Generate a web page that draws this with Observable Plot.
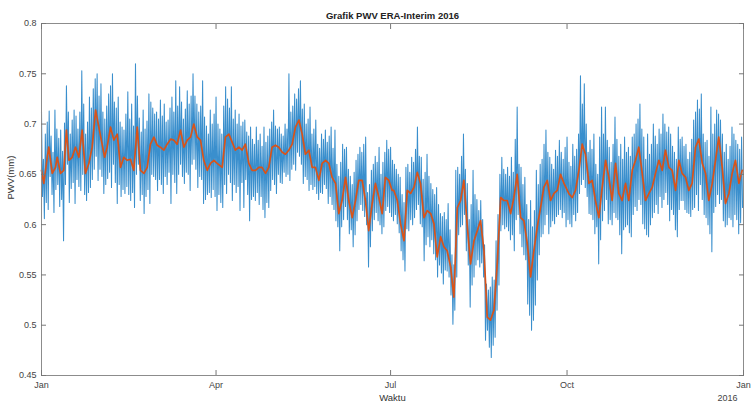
<!DOCTYPE html>
<html><head><meta charset="utf-8">
<script src="https://cdn.jsdelivr.net/npm/d3@7"></script>
<script src="https://cdn.jsdelivr.net/npm/@observablehq/plot@0.6"></script>
<style>
body{margin:0;background:#fff;}
#chart{width:752px;height:402px;}
</style>
</head><body><div id="chart"></div>
<script>
const titleText = "Grafik PWV ERA-Interim 2016";
const xLabelText = "Waktu";
const yLabelText = "PWV(mm)";
const yearText = "2016";
const yTicks = [0.45, 0.5, 0.55, 0.6, 0.65, 0.7, 0.75, 0.8];
const xTickDates = ["2016-01-01", "2016-04-01", "2016-07-01", "2016-10-01", "2017-01-01"];
const xTickLabels = ["Jan", "Apr", "Jul", "Oct", "Jan"];
const startDate = "2016-01-01";
const blueStepHours = 12;

// PWV series (blue), one value every 12 hours from 1 Jan 2016
const blueVals = [
.712,.628,.665,.606,.690,.622,.702,.615,.713,.648,.688,.630,.672,.612,.714,.635,.695,.640,.686,.618,
.694,.625,.673,.584,.701,.640,.738,.660,.712,.622,.690,.636,.704,.642,.714,.621,.708,.645,.695,.638,
.712,.634,.753,.650,.720,.630,.690,.624,.702,.632,.727,.637,.716,.645,.735,.655,.745,.668,.750,.644,
.728,.655,.740,.648,.712,.631,.705,.640,.718,.646,.730,.652,.738,.637,.750,.660,.722,.642,.716,.621,
.727,.640,.702,.628,.697,.635,.694,.631,.710,.638,.732,.630,.705,.624,.720,.632,.698,.617,.760,.650,
.728,.660,.706,.624,.692,.630,.714,.611,.695,.628,.703,.635,.730,.621,.722,.650,.716,.648,.710,.645,
.712,.634,.705,.645,.724,.640,.708,.631,.720,.648,.702,.640,.704,.652,.716,.621,.727,.650,.712,.642,
.743,.631,.718,.650,.737,.660,.722,.648,.705,.641,.715,.652,.733,.650,.720,.634,.728,.660,.750,.665,
.728,.655,.720,.637,.712,.648,.718,.645,.743,.621,.707,.625,.698,.630,.690,.632,.714,.627,.700,.635,
.710,.628,.727,.614,.700,.630,.695,.622,.690,.617,.718,.640,.737,.631,.725,.650,.716,.642,.737,.624,
.705,.640,.714,.632,.700,.638,.710,.614,.698,.642,.702,.617,.704,.645,.692,.630,.688,.604,.697,.625,
.685,.628,.680,.624,.697,.632,.684,.620,.690,.628,.678,.615,.697,.607,.682,.622,.688,.617,.695,.634,
.702,.645,.714,.640,.698,.631,.695,.650,.697,.642,.690,.641,.688,.652,.700,.648,.695,.650,.750,.644,
.712,.655,.718,.660,.730,.654,.725,.672,.735,.668,.743,.660,.715,.641,.720,.648,.700,.645,.705,.634,
.717,.640,.690,.635,.695,.638,.704,.631,.680,.625,.676,.632,.690,.631,.685,.640,.694,.636,.682,.621,
.688,.628,.697,.620,.676,.615,.694,.604,.660,.598,.648,.574,.662,.598,.680,.605,.675,.618,.677,.605,
.655,.591,.648,.595,.640,.578,.652,.590,.664,.604,.670,.615,.677,.620,.672,.614,.680,.608,.687,.600,
.632,.558,.640,.578,.654,.594,.660,.605,.668,.612,.662,.604,.677,.600,.650,.591,.662,.598,.672,.614,
.684,.618,.675,.612,.677,.608,.664,.604,.660,.610,.655,.601,.650,.592,.647,.574,.630,.565,.622,.554,
.657,.596,.660,.594,.652,.605,.667,.600,.662,.607,.675,.615,.697,.620,.668,.601,.667,.598,.645,.564,
.652,.580,.670,.588,.648,.578,.641,.585,.635,.571,.630,.565,.637,.548,.620,.560,.611,.552,.608,.541,
.612,.555,.605,.554,.621,.548,.595,.530,.570,.501,.560,.515,.654,.548,.657,.590,.650,.598,.668,.600,
.690,.610,.655,.574,.641,.560,.605,.518,.620,.540,.654,.548,.630,.560,.625,.565,.614,.558,.624,.562,
.605,.548,.580,.485,.541,.495,.535,.478,.538,.468,.548,.480,.545,.488,.584,.515,.610,.540,.650,.594,
.667,.600,.655,.596,.650,.598,.657,.594,.648,.585,.667,.590,.652,.574,.685,.605,.717,.610,.660,.591,
.657,.578,.640,.570,.647,.565,.620,.521,.605,.510,.624,.495,.598,.505,.614,.520,.654,.545,.640,.570,
.660,.588,.665,.591,.680,.600,.694,.610,.672,.591,.667,.598,.660,.604,.655,.601,.674,.608,.668,.610,
.684,.615,.672,.607,.665,.612,.677,.598,.687,.605,.662,.601,.658,.598,.680,.610,.668,.604,.675,.612,
.690,.631,.748,.640,.720,.645,.740,.637,.700,.628,.672,.611,.684,.610,.675,.605,.690,.591,.660,.598,
.650,.561,.687,.585,.717,.604,.690,.614,.717,.625,.684,.601,.677,.605,.662,.600,.680,.612,.707,.607,
.685,.605,.668,.590,.680,.571,.665,.595,.687,.598,.672,.600,.677,.592,.668,.588,.687,.610,.690,.618,
.700,.614,.705,.625,.720,.620,.695,.601,.687,.596,.665,.590,.690,.588,.670,.600,.680,.607,.700,.612,
.688,.620,.680,.611,.695,.628,.690,.617,.710,.625,.700,.632,.692,.620,.697,.604,.690,.615,.678,.610,
.672,.595,.665,.588,.697,.615,.685,.624,.687,.624,.678,.615,.680,.612,.665,.611,.672,.608,.685,.615,
.704,.617,.712,.630,.724,.614,.715,.640,.730,.625,.690,.610,.682,.607,.684,.600,.668,.591,.717,.573,
.690,.612,.700,.618,.714,.630,.710,.621,.704,.625,.690,.604,.672,.598,.680,.600,.665,.607,.678,.605,
.697,.598,.690,.610,.684,.605,.680,.591,.675,.602,.687,.617
];

// Smoothed series (orange): day of year (from 1 Jan) and value
const orangeDay = [
0,1.2,3.0,3.8,5.6,7.3,8.2,9.9,11.6,13.0,14.3,16.0,17.7,19.5,21.2,22.9,24.7,26.4,28.2,29.9,
31.6,32.9,34.2,36.0,37.7,39.5,41.2,42.9,44.7,46.4,48.1,49.9,51.6,53.4,55.1,56.8,58.6,60.3,62.0,63.8,
65.5,67.3,69.0,70.7,72.5,74.2,76.0,77.7,79.4,81.2,82.9,84.6,86.4,88.1,89.9,91.6,
94.2,95.9,97.7,99.4,101.1,102.9,104.6,106.3,108.1,109.8,111.6,113.3,115.0,116.8,118.5,120.2,122.0,123.7,125.5,127.2,
128.9,130.7,132.4,134.2,135.9,137.6,139.4,141.1,142.8,144.6,146.3,148.1,149.8,151.5,153.3,155.0,156.7,158.5,160.2,162.0,
163.7,165.4,167.2,168.9,170.6,172.4,174.1,175.9,177.6,179.3,181.1,
182.8,183.7,185.5,187.2,189.0,190.7,192.4,194.2,195.9,197.6,199.4,201.1,202.9,204.6,206.3,208.1,209.8,211.5,213.3,215.0,
216.8,218.5,220.2,222.0,223.7,225.5,227.2,228.9,230.7,232.4,234.1,235.9,237.6,239.4,241.1,242.8,244.6,246.3,248.0,249.8,
251.5,253.3,255.0,256.7,258.5,260.2,261.9,263.7,265.4,267.2,268.9,270.6,272.4,
274.9,276.7,278.4,280.2,281.9,283.6,285.4,287.1,288.8,290.6,292.3,294.1,295.8,297.5,299.3,301.0,302.7,304.5,306.2,308.0,
309.7,311.4,313.2,314.9,316.7,318.4,320.1,321.9,323.6,325.3,327.1,328.8,330.6,332.3,334.0,335.8,337.5,339.2,341.0,342.7,
344.5,346.2,347.9,349.7,351.4,353.1,354.9,356.6,358.4,360.1,361.8,363.6,365.3
];
const orangeVal = [
.654,.641,.667,.677,.651,.657,.667,.651,.654,.694,.664,.667,.677,.667,.694,.651,.661,.677,.714,.697,
.680,.667,.677,.697,.684,.690,.657,.667,.664,.665,.654,.697,.654,.651,.657,.680,.687,.679,.677,.674,
.680,.685,.684,.680,.694,.677,.684,.687,.700,.687,.684,.664,.654,.661,.664,.661,
.657,.687,.690,.682,.674,.677,.674,.680,.661,.654,.654,.657,.657,.651,.657,.677,.679,.677,.672,.670,
.674,.680,.697,.704,.690,.670,.674,.657,.657,.644,.661,.664,.661,.647,.641,.611,.624,.647,.624,.607,
.624,.644,.644,.624,.594,.621,.641,.627,.611,.647,.644,
.634,.634,.624,.601,.584,.634,.631,.637,.652,.641,.607,.614,.611,.601,.568,.588,.578,.574,.558,.528,
.617,.624,.644,.598,.561,.584,.594,.604,.574,.508,.505,.515,.561,.627,.624,.624,.611,.627,.650,.607,
.604,.581,.548,.574,.598,.617,.637,.644,.624,.631,.634,.650,.641,
.631,.627,.634,.654,.680,.670,.641,.644,.624,.607,.637,.664,.647,.624,.661,.631,.624,.641,.624,.654,
.664,.677,.651,.624,.631,.637,.651,.664,.654,.674,.657,.654,.634,.664,.651,.647,.634,.641,.677,.685,
.661,.651,.624,.641,.664,.687,.657,.621,.631,.651,.664,.641,.654
];

const t0 = Date.parse(startDate + "T00:00:00Z");
const blueData = blueVals.map((v, i) => ({date: new Date(t0 + i * blueStepHours * 3600e3), v}));
const orangeData = orangeDay.map((d, i) => ({date: new Date(t0 + d * 864e5), v: orangeVal[i]}));
const xTicks = xTickDates.map(s => new Date(s + "T00:00:00Z"));
const xLabelOf = new Map(xTicks.map((d, i) => [+d, xTickLabels[i]]));
const fmtY = d => String(+d.toFixed(2));

const chart = Plot.plot({
  width: 752,
  height: 402,
  marginLeft: 41,
  marginRight: 9,
  marginTop: 23,
  marginBottom: 27,
  style: {fontFamily: "'Liberation Sans', Arial, sans-serif", fontSize: "9px", color: "#333", background: "#fff"},
  x: {type: "utc", domain: [xTicks[0], xTicks[xTicks.length - 1]]},
  y: {domain: [0.45, 0.8]},
  marks: [
    Plot.line(blueData, {x: "date", y: "v", stroke: "#1f7fc6", strokeWidth: 1.05, strokeOpacity: 0.88}),
    Plot.line(orangeData, {x: "date", y: "v", stroke: "#D95319", strokeWidth: 1.7}),
    Plot.frame({stroke: "#8c8c8c"}),
    Plot.axisY(yTicks, {anchor: "left", tickSize: -5, tickPadding: 10, tickFormat: fmtY, label: null, stroke: "#777", fill: "#444"}),
    Plot.axisY(yTicks, {anchor: "right", tickSize: -5, tickFormat: () => "", label: null, stroke: "#777"}),
    Plot.axisX(xTicks, {anchor: "bottom", tickSize: -5, tickPadding: 11, tickFormat: d => xLabelOf.get(+d), label: null, stroke: "#777", fill: "#444"}),
    Plot.axisX(xTicks, {anchor: "top", tickSize: -5, tickFormat: () => "", label: null, stroke: "#777"}),
    Plot.text([titleText], {frameAnchor: "top", dy: -8, lineAnchor: "middle", fontWeight: "bold", fontSize: 9.5, fill: "#222"}),
    Plot.text([xLabelText], {frameAnchor: "bottom", dy: 22, lineAnchor: "middle", fontSize: 9.5, fill: "#333"}),
    Plot.text([yearText], {frameAnchor: "bottom-right", dy: 23, dx: -6, textAnchor: "end", lineAnchor: "middle", fontSize: 9, fill: "#444"}),
    Plot.text([yLabelText], {frameAnchor: "left", dx: -31, rotate: -90, lineAnchor: "middle", fontSize: 9.5, fill: "#333"})
  ]
});
document.getElementById("chart").append(chart);
</script>
</body></html>
